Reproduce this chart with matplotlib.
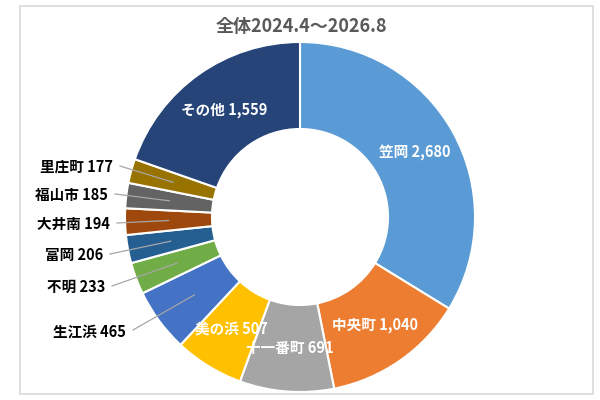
import numpy as np
import matplotlib
matplotlib.use("Agg")
import matplotlib.pyplot as plt
from matplotlib.patches import Rectangle

plt.rcParams['font.family'] = ['Noto Sans CJK JP', 'DejaVu Sans']

categories = ["笠岡", "中央町", "十一番町", "美の浜", "生江浜", "不明", "富岡", "大井南", "福山市", "里庄町", "その他"]
values = [2680, 1040, 691, 507, 465, 233, 206, 194, 185, 177, 1559]
colors = ["#5B9BD5", "#ED7D31", "#A5A5A5", "#FFC000", "#4472C4", "#70AD47",
          "#255E91", "#9E480E", "#636363", "#997300", "#264478"]
title = "全体2024.4～2026.8"

# which labels sit inside the ring
inside = [True, True, True, True, False, False, False, False, False, False, True]
# outside label anchor (right end x, centre y) in pixel coords
outside_pos = {4: (126, 331), 5: (105, 287), 6: (103, 255), 7: (110, 224), 8: (108, 195), 9: (113, 167)}

W, H = 600, 400
CX, CY = 300, 217
R_OUT, R_IN = 175, 88

fig = plt.figure(figsize=(6, 4), dpi=100)
fig.patch.set_facecolor("white")
ax = fig.add_axes([0, 0, 1, 1])
ax.set_xlim(-CX, W - CX)
ax.set_ylim(-(H - CY), CY)
ax.set_aspect("equal")
ax.axis("off")

fig.add_artist(Rectangle((20 / W, 1 - 394 / H), (593 - 20) / W, (394 - 6) / H,
                         transform=fig.transFigure, fill=False, edgecolor="#D9D9D9", linewidth=1.2))

wedges, _ = ax.pie(values, colors=colors, startangle=90, counterclock=False,
                   radius=R_OUT, center=(0, 0), frame=False,
                   wedgeprops=dict(width=R_OUT - R_IN, edgecolor="white", linewidth=1.5))
ax.set_xlim(-CX, W - CX)
ax.set_ylim(-(H - CY), CY)

r_mid = (R_OUT + R_IN) / 2
for i, (w, cat, v) in enumerate(zip(wedges, categories, values)):
    ang = np.deg2rad((w.theta1 + w.theta2) / 2)
    mx, my = r_mid * np.cos(ang), r_mid * np.sin(ang)
    label = f"{cat} {v:,}"
    if inside[i]:
        ax.text(mx, my, label, ha="center", va="center", color="white",
                fontsize=10.5, fontweight="bold")
    else:
        px, py = outside_pos[i]
        tx, ty = px - CX, CY - py
        ax.plot([tx + 7, mx], [ty + 1, my], color="#A6A6A6", linewidth=0.9, zorder=5)
        ax.text(tx, ty, label, ha="right", va="center", color="black",
                fontsize=10.5, fontweight="bold")

fig.text(301 / W, 1 - 27 / H, title, ha="center", va="center", color="#595959",
         fontsize=13, fontweight="bold")

fig.savefig("out.png", dpi=100, facecolor="white")
